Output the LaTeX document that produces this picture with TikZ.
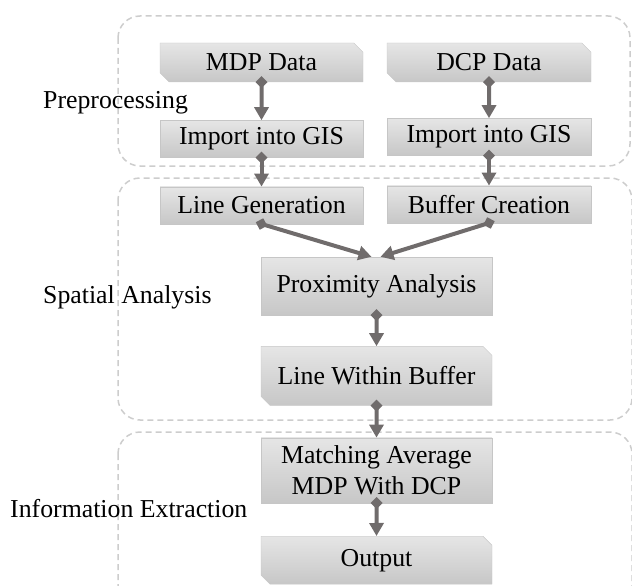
\documentclass[tikz,border=0pt]{standalone}
\usepackage{fontspec}
\setmainfont{Liberation Serif}
\usetikzlibrary{arrows.meta, positioning, shapes.misc}
\definecolor{linkgray}{RGB}{112,108,108}
\definecolor{stagegray}{RGB}{205,205,205}
\tikzset{%
	box/.style={draw=gray!45, rectangle, top color=gray!20, bottom color=gray!44,%
		inner sep=2pt, align=center},
	sbox/.style={box, chamfered rectangle, chamfered rectangle xsep=6pt,%
		chamfered rectangle corners={north east, south west}},
	link/.style={draw=linkgray, line width=4pt, shorten <=-6pt,%
		{Diamond[width=12pt,length=12pt]}-{Triangle[width=14pt,length=13pt]}},
	stage/.style={draw=stagegray, line width=1.5pt, dash pattern=on 6pt off 4pt,%
		rounded corners=22pt},
	lbl/.style={inner sep=0pt, anchor=base west}
}

\begin{document}
\begin{tikzpicture}[x=1pt, y=-1pt, font=\fontsize{25.8}{31}\selectfont]
	\useasboundingbox (0,0) rectangle (632,586);
	\clip (0,0) rectangle (632,586);

	% stages
	\draw[stage] (118,16) rectangle (630,166);
	\draw[stage] (118,178) rectangle (632,420);
	\draw[stage] (118,432) rectangle (632,610);

	\node[lbl] (pre) at (43,108) {Preprocessing};
	\node[lbl] (spa) at (43,303) {Spatial Analysis};
	\node[lbl] (inf) at (10,517) {Information Extraction};

	% left column
	\node[sbox, minimum width=203pt, minimum height=39pt] (mdp) at (261.5,62.5) {MDP Data};
	\node[box, minimum width=203pt, minimum height=37pt, below=38pt of mdp] (gis1) {Import into GIS};
	\node[box, minimum width=203pt, minimum height=37pt, below=29pt of gis1] (linegen) {Line Generation};

	% right column
	\node[sbox, minimum width=204pt, minimum height=39pt] (dcp) at (489,62.5) {DCP Data};
	\node[box, minimum width=204pt, minimum height=37pt, below=36pt of dcp] (gis2) {Import into GIS};
	\node[box, minimum width=204pt, minimum height=37pt, below=30pt of gis2] (buffer) {Buffer Creation};

	% centre
	\node[box, minimum width=231pt, minimum height=58pt] (prox) at (376.5,286) {Proximity Analysis};
	\node[sbox, minimum width=231pt, minimum height=59pt, below=31pt of prox] (within) {Line Within Buffer};
	\node[box, minimum width=231pt, minimum height=65pt, below=32pt of within] (match)
		{Matching Average\\MDP With DCP};
	\node[sbox, minimum width=231pt, minimum height=48pt, below=33pt of match] (output) {Output};

	\draw[link] (mdp) -- (gis1);
	\draw[link] (gis1) -- (linegen);
	\draw[link] (dcp) -- (gis2);
	\draw[link] (gis2) -- (buffer);
	\draw[link] (linegen.south) -- ([xshift=-5pt]prox.north);
	\draw[link] (buffer.south) -- ([xshift=4pt]prox.north);
	\draw[link] (prox) -- (within);
	\draw[link] (within) -- (match);
	\draw[link] (match) -- (output);
\end{tikzpicture}
\end{document}
